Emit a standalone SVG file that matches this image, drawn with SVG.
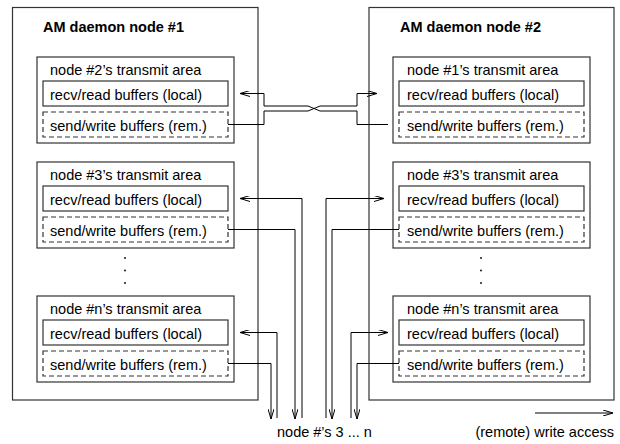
<svg xmlns="http://www.w3.org/2000/svg" width="620" height="444" viewBox="0 0 620 444">
  <style>
    text { font-family: "Liberation Sans", Arial, Helvetica, sans-serif; font-size: 14.5px; fill: #000; }
    .title { font-weight: bold; }
    .outer { fill: none; stroke: #333; stroke-width: 1.2; }
    .area { fill: none; stroke: #333; stroke-width: 1.2; }
    .recv { fill: none; stroke: #333; stroke-width: 1.2; }
    .send { fill: none; stroke: #333; stroke-width: 1.2; stroke-dasharray: 5 3; }
    .link { fill: none; stroke: #000; stroke-width: 1; }
    .arrow { marker-end: url(#head); }
    .dot { fill: #000; }
  </style>
  <defs>
    <marker id="head" viewBox="0 0 10 6" refX="10" refY="3" markerWidth="10" markerHeight="6" markerUnits="userSpaceOnUse" orient="auto">
      <path d="M0,0 L10,3 L0,6" fill="none" stroke="#000" stroke-width="1"/>
    </marker>
  </defs>

  <rect width="620" height="444" fill="#fff"/>

  <!-- daemon node #1 -->
  <g id="daemon1">
    <rect class="outer" x="12.5" y="7.5" width="245.5" height="392.5"/>
    <text class="title" x="43" y="32">AM daemon node #1</text>
    <g id="d1-area2">
      <rect class="area" x="37" y="57" width="197" height="86"/>
      <text x="50" y="75">node #2’s transmit area</text>
      <rect class="recv" x="43" y="81" width="185" height="25"/>
      <text x="50" y="99.5">recv/read buffers (local)</text>
      <rect class="send" x="43" y="112" width="185" height="25"/>
      <text x="50" y="130.5">send/write buffers (rem.)</text>
    </g>
    <g id="d1-area3">
      <rect class="area" x="37" y="162" width="197" height="86"/>
      <text x="50" y="180">node #3’s transmit area</text>
      <rect class="recv" x="43" y="186" width="185" height="25"/>
      <text x="50" y="204.5">recv/read buffers (local)</text>
      <rect class="send" x="43" y="217" width="185" height="25"/>
      <text x="50" y="235.5">send/write buffers (rem.)</text>
    </g>
    <circle class="dot" cx="125" cy="258" r="0.9"/>
    <circle class="dot" cx="125" cy="270.5" r="0.9"/>
    <circle class="dot" cx="125" cy="283" r="0.9"/>
    <g id="d1-arean">
      <rect class="area" x="37" y="296" width="197" height="86"/>
      <text x="50" y="314">node #n’s transmit area</text>
      <rect class="recv" x="43" y="320" width="185" height="25"/>
      <text x="50" y="338.5">recv/read buffers (local)</text>
      <rect class="send" x="43" y="351" width="185" height="25"/>
      <text x="50" y="369.5">send/write buffers (rem.)</text>
    </g>
  </g>

  <!-- daemon node #2 -->
  <g id="daemon2">
    <rect class="outer" x="369" y="7.5" width="245" height="392.5"/>
    <text class="title" x="400" y="32">AM daemon node #2</text>
    <g id="d2-area1">
      <rect class="area" x="393" y="57" width="197" height="86"/>
      <text x="407" y="75">node #1’s transmit area</text>
      <rect class="recv" x="399" y="81" width="185" height="25"/>
      <text x="407" y="99.5">recv/read buffers (local)</text>
      <rect class="send" x="399" y="112" width="185" height="25"/>
      <text x="407" y="130.5">send/write buffers (rem.)</text>
    </g>
    <g id="d2-area3">
      <rect class="area" x="393" y="162" width="197" height="86"/>
      <text x="407" y="180">node #3’s transmit area</text>
      <rect class="recv" x="399" y="186" width="185" height="25"/>
      <text x="407" y="204.5">recv/read buffers (local)</text>
      <rect class="send" x="399" y="217" width="185" height="25"/>
      <text x="407" y="235.5">send/write buffers (rem.)</text>
    </g>
    <circle class="dot" cx="481" cy="258" r="0.9"/>
    <circle class="dot" cx="481" cy="270.5" r="0.9"/>
    <circle class="dot" cx="481" cy="283" r="0.9"/>
    <g id="d2-arean">
      <rect class="area" x="393" y="296" width="197" height="86"/>
      <text x="407" y="314">node #n’s transmit area</text>
      <rect class="recv" x="399" y="320" width="185" height="25"/>
      <text x="407" y="338.5">recv/read buffers (local)</text>
      <rect class="send" x="399" y="351" width="185" height="25"/>
      <text x="407" y="369.5">send/write buffers (rem.)</text>
    </g>
  </g>

  <!-- write-access connectors -->
  <g id="connectors">
    <!-- node #1 <-> node #2, crossing in the middle -->
    <path class="link arrow" d="M228,124.5 H264 V111 H308 L320,106 H357 V93.5 H377"/>
    <path class="link arrow" d="M388,124.5 H357 V111 H320 L308,106 H264 V93.5 H240"/>
    <!-- node #1 to/from nodes 3 ... n -->
    <path class="link arrow" d="M302,418 V198.5 H240"/>
    <path class="link arrow" d="M228,229.5 H295 V419"/>
    <path class="link arrow" d="M277,418 V332.5 H240"/>
    <path class="link arrow" d="M228,363.5 H271 V419"/>
    <!-- node #2 to/from nodes 3 ... n -->
    <path class="link arrow" d="M326,418 V198.5 H384"/>
    <path class="link arrow" d="M399,229.5 H332 V419"/>
    <path class="link arrow" d="M351,418 V332.5 H388"/>
    <path class="link arrow" d="M399,363.5 H357 V419"/>
    <!-- legend arrow -->
    <path class="link arrow" d="M535,413 H613"/>
  </g>

  <text x="277" y="437">node #’s 3 ... n</text>
  <text x="614" y="437" text-anchor="end">(remote) write access</text>
</svg>
